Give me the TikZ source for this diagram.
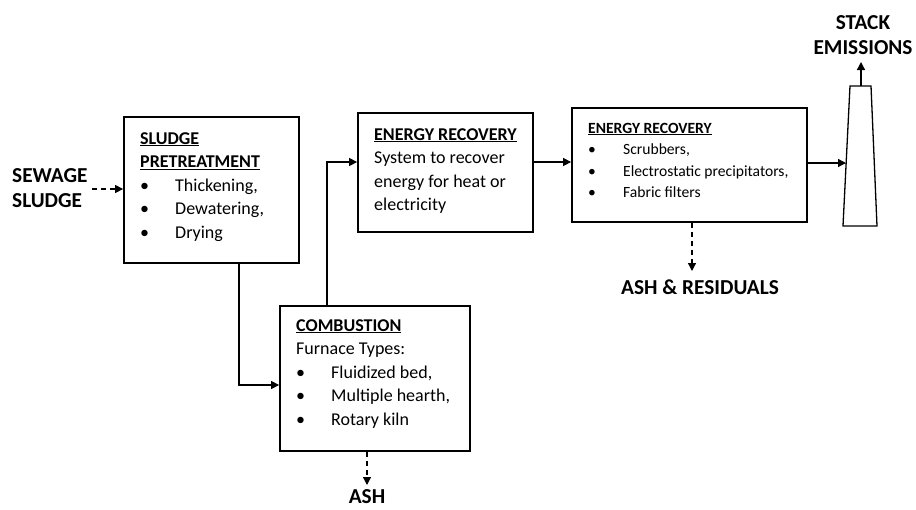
\documentclass[tikz,border=0pt]{standalone}
\usepackage{fontspec}
\setmainfont{Carlito}
\usetikzlibrary{arrows.meta}
\newcommand{\bul}[1]{\makebox[35pt][l]{\textbullet}#1}
\newcommand{\lines}[1]{\begin{tabular}[t]{@{}l@{}}#1\end{tabular}}
\begin{document}
\begin{tikzpicture}[x=1pt,y=-1pt,
  box/.style={draw,line width=1.8pt,inner sep=0pt},
  txt/.style={inner sep=0pt,anchor=base west},
  big/.style={font=\fontsize{18}{23.5}\selectfont},
  small/.style={font=\fontsize{15.6}{21.5}\selectfont},
  lbl/.style={inner sep=0pt,align=center,font=\fontsize{21.3}{25}\selectfont\bfseries},
  conn/.style={line width=1.3pt,-{Triangle[length=8pt,width=8pt]}},
  dconn/.style={conn,dash pattern=on 5pt off 4pt}]
\useasboundingbox (0,0) rectangle (916,509);
% boxes
\node[box,minimum width=175pt,minimum height=146pt] (pre) at (211.5,190) {};
\node[box,minimum width=190pt,minimum height=145pt] (comb) at (375,378.5) {};
\node[box,minimum width=175pt,minimum height=119pt] (en1) at (445.5,172.5) {};
\node[box,minimum width=235pt,minimum height=114pt] (en2) at (689.5,165) {};
% texts
\node[txt,big] (pretxt) at (140,144) {\lines{\textbf{\underline{SLUDGE}}\\\textbf{\underline{PRETREATMENT}}\\\bul{Thickening,}\\\bul{Dewatering,}\\\bul{Drying}}};
\node[txt,big] (combtxt) at (296,331) {\lines{\textbf{\underline{COMBUSTION}}\\Furnace Types:\\\bul{Fluidized bed,}\\\bul{Multiple hearth,}\\\bul{Rotary kiln}}};
\node[txt,big] (en1txt) at (374,140) {\lines{\textbf{\underline{ENERGY RECOVERY}}\\System to recover\\energy for heat or\\electricity}};
\node[txt,small] (en2txt) at (588,133) {\lines{\textbf{\underline{ENERGY RECOVERY}}\\\bul{Scrubbers,}\\\bul{Electrostatic precipitators,}\\\bul{Fabric filters}}};
% labels
\node[lbl,align=left,anchor=west] (sew) at (12,188) {SEWAGE\\SLUDGE};
\node[lbl] (ash) at (367,497) {ASH};
\node[lbl] (ashres) at (700,287) {ASH \& RESIDUALS};
\node[lbl] (stackem) at (863,35) {STACK\\EMISSIONS};
% stack
\coordinate (s1) at (843,226);
\coordinate (s2) at (877,226);
\coordinate (s3) at (871,86);
\coordinate (s4) at (850,86);
\draw[line width=1.3pt] (s1) -- (s2) -- (s3) -- (s4) -- cycle;
\coordinate (stackin) at (846,163);
\coordinate (stacktop) at (861,86);
% connectors
\coordinate (sewout) at (92,189);
\draw[dconn] (sewout) -- (pre.west |- sewout);
\draw[conn] (pre.south -| 239,0) -- (239,385) -- (comb.west |- 0,385);
\draw[conn] (comb.north -| 327,0) -- (327,162) -- (en1.west |- 0,162);
\draw[conn] (en1.east |- 0,162) -- (en2.west |- 0,162);
\draw[conn] (en2.east |- 0,163) -- (stackin);
\draw[dconn] (en2.south -| 692,0) -- (692,271);
\draw[dconn] (comb.south -| 367,0) -- (367,485);
\draw[conn] (stacktop) -- (861,62);
\end{tikzpicture}
\end{document}
